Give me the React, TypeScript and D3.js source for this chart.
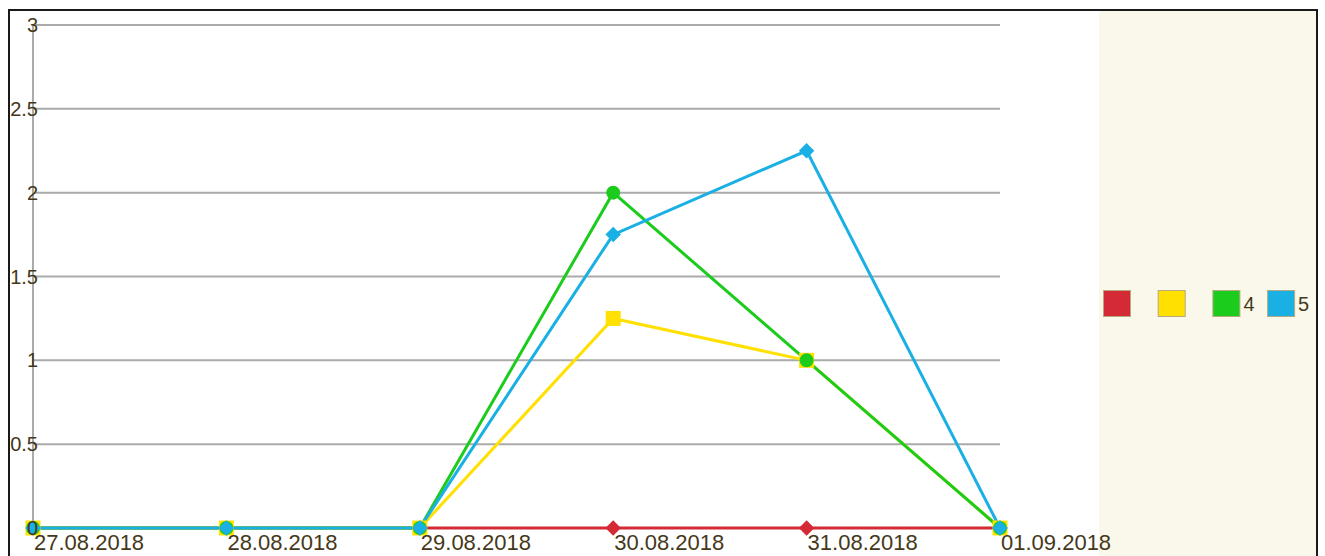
import React, { useEffect, useRef } from 'react';
import * as d3 from 'd3';

// chart data
const dates = ['27.08.2018', '28.08.2018', '29.08.2018', '30.08.2018', '31.08.2018', '01.09.2018'];
const yTicks = [0, 0.5, 1, 1.5, 2, 2.5, 3];
const seriesNames = ['', '', '4', '5'];
const seriesColors = ['#d42a36', '#ffe000', '#1ccc1c', '#1ab0e4'];
const seriesMarkers = ['diamond', 'square', 'circle', 'diamond'];
const redValues = [0, 0, 0, 0, 0, 0];
const yellowValues = [0, 0, 0, 1.25, 1, 0];
const greenValues = [0, 0, 0, 2, 1, 0];
const blueValues = [0, 0, 0, 1.75, 2.25, 0];
const allValues = [redValues, yellowValues, greenValues, blueValues];

const textColor = '#45381a';

const App = () => {
    const ref = useRef<SVGSVGElement>(null);

    useEffect(() => {
        const svg = d3.select(ref.current);
        svg.selectAll('*').remove();

        //Frame and legend panel
        svg.append('rect')
            .attr('x', 1099).attr('y', 11).attr('width', 218).attr('height', 560)
            .attr('fill', '#faf8ea');
        svg.append('rect')
            .attr('x', 9).attr('y', 10).attr('width', 1308).attr('height', 600)
            .attr('fill', 'none').attr('stroke', '#1a1a1a').attr('stroke-width', 2);

        //Scales
        const x = d3.scalePoint<string>().domain(dates).range([33, 1000]);
        const y = d3.scaleLinear().domain([0, 3]).range([528, 25]);

        //Gridlines
        svg.append('g')
            .selectAll('line')
            .data(yTicks)
            .enter().append('line')
            .attr('x1', 33).attr('x2', 1000)
            .attr('y1', d => y(d)).attr('y2', d => y(d))
            .attr('stroke', '#aaaaaa').attr('stroke-width', 2);
        svg.append('line')
            .attr('x1', 33).attr('x2', 33)
            .attr('y1', y(3)).attr('y2', y(0))
            .attr('stroke', '#aaaaaa').attr('stroke-width', 2);

        //Lines and markers
        const line = d3.line<number>()
            .x((d, i) => x(dates[i]) as number)
            .y(d => y(d));

        allValues.forEach((vals, s) => {
            const color = seriesColors[s];
            svg.append('path')
                .datum(vals)
                .attr('d', line)
                .attr('fill', 'none')
                .attr('stroke', color)
                .attr('stroke-width', 3);
        });

        allValues.forEach((vals, s) => {
            const color = seriesColors[s];
            const marker = seriesMarkers[s];
            const g = svg.append('g').attr('fill', color);
            vals.forEach((v, i) => {
                const cx = x(dates[i]) as number;
                const cy = y(v);
                if (marker === 'circle') {
                    g.append('circle').attr('cx', cx).attr('cy', cy).attr('r', 7);
                } else if (marker === 'square') {
                    g.append('rect').attr('x', cx - 7.5).attr('y', cy - 7.5).attr('width', 15).attr('height', 15);
                } else {
                    g.append('path')
                        .attr('d', d3.symbol(d3.symbolSquare, 120)())
                        .attr('transform', `translate(${cx},${cy}) rotate(45)`);
                }
            });
        });

        //Y labels
        svg.append('g')
            .selectAll('text')
            .data(yTicks)
            .enter().append('text')
            .attr('x', 38).attr('y', d => y(d))
            .attr('text-anchor', 'end')
            .attr('dominant-baseline', 'central')
            .style('font-family', 'Liberation Sans, Arial, sans-serif')
            .style('font-size', '20px')
            .attr('fill', textColor)
            .text(d => String(d));

        //X labels
        svg.append('g')
            .selectAll('text')
            .data(dates)
            .enter().append('text')
            .attr('x', d => (x(d) as number) + 1).attr('y', 550)
            .style('font-family', 'Liberation Sans, Arial, sans-serif')
            .style('font-size', '22px')
            .attr('fill', textColor)
            .text(d => d);

        //LEGEND
        seriesNames.forEach((name, i) => {
            const lx = 1103 + i * 54.7;
            svg.append('rect')
                .attr('x', lx + 0.5).attr('y', 290.5).attr('width', 27).attr('height', 26)
                .attr('fill', seriesColors[i])
                .attr('stroke', '#b8aa80').attr('stroke-width', 1);
            svg.append('text')
                .attr('x', lx + 31).attr('y', 304)
                .attr('dominant-baseline', 'central')
                .style('font-family', 'Liberation Sans, Arial, sans-serif')
                .style('font-size', '20px')
                .attr('fill', textColor)
                .text(name);
        });
    }, []);

    return (
        <svg ref={ref} width={1325} height={556}
            style={{ position: 'absolute', left: 0, top: 0, background: '#ffffff' }} />
    );
};

export default App;
